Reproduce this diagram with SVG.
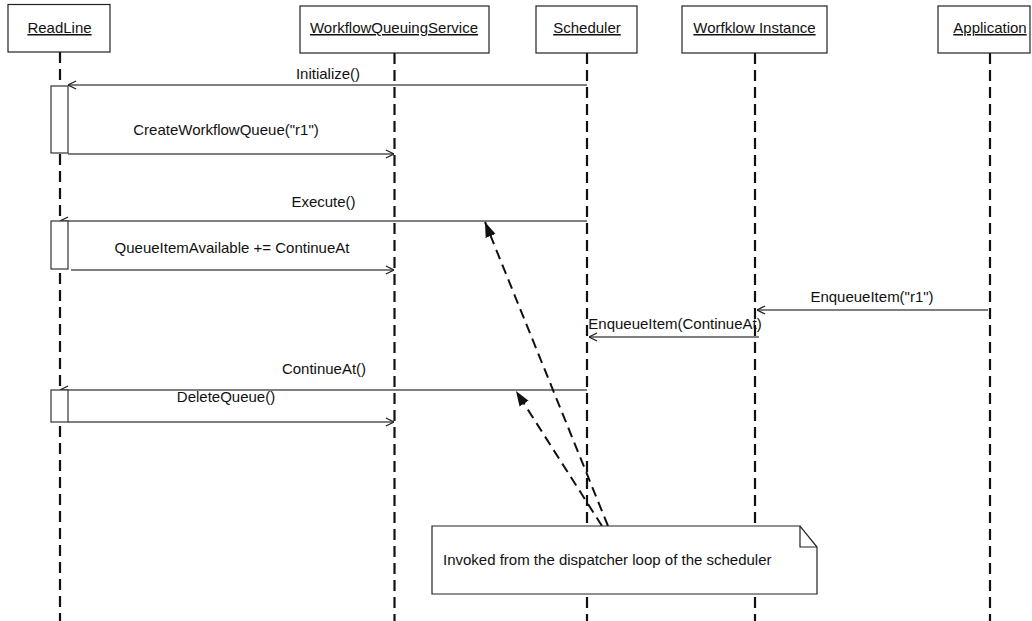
<svg xmlns="http://www.w3.org/2000/svg" width="1032" height="621" viewBox="0 0 1032 621">
<defs>
<style>
text{font-family:"Liberation Sans",Arial,sans-serif;font-size:15px;fill:#111}
.hdr{fill:#fff;stroke:#222;stroke-width:1.2}
.lbl{text-anchor:middle;text-decoration:underline}
.life{stroke:#111;stroke-width:2.2;stroke-dasharray:11 6;fill:none}
.msg{stroke:#555;stroke-width:1.4;fill:none;marker-end:url(#open)}
.act{fill:#fff;stroke:#333;stroke-width:1.2}
.dep{stroke:#111;stroke-width:2;stroke-dasharray:10 6;fill:none;marker-end:url(#filled)}
.mt{text-anchor:middle}
</style>
<marker id="open" viewBox="0 0 10 10" refX="10" refY="5" markerWidth="9" markerHeight="10" markerUnits="userSpaceOnUse" orient="auto">
<path d="M1,0.5 L10,5 L1,9.5" fill="none" stroke="#222" stroke-width="1.4"/>
</marker>
<marker id="filled" viewBox="0 0 14 10" refX="14" refY="5" markerWidth="15" markerHeight="11" markerUnits="userSpaceOnUse" orient="auto">
<path d="M0,0 L14,5 L0,10 Z" fill="#111"/>
</marker>
</defs>
<rect width="1032" height="621" fill="#fff"/>

<g id="lifelines">
<line class="life" x1="60" y1="52" x2="60" y2="621"/>
<line class="life" x1="394.5" y1="53" x2="394.5" y2="621"/>
<line class="life" x1="587" y1="53" x2="587" y2="621"/>
<line class="life" x1="755" y1="53" x2="755" y2="621"/>
<line class="life" x1="990" y1="53" x2="990" y2="621"/>
</g>

<g id="node-readline">
<rect class="hdr" x="8" y="4.5" width="102" height="47.5"/>
<text class="lbl" x="59.5" y="33">ReadLine</text>
</g>
<g id="node-wqs">
<rect class="hdr" x="300" y="6" width="189" height="47"/>
<text class="lbl" x="394" y="33">WorkflowQueuingService</text>
</g>
<g id="node-scheduler">
<rect class="hdr" x="536" y="6" width="101" height="47"/>
<text class="lbl" x="587" y="33">Scheduler</text>
</g>
<g id="node-instance">
<rect class="hdr" x="682" y="6" width="145" height="47"/>
<text class="lbl" x="754.5" y="33">Worfklow Instance</text>
</g>
<g id="node-application">
<rect class="hdr" x="938" y="6" width="92" height="47"/>
<text class="lbl" x="990" y="33">Application</text>
</g>

<g id="connectors">
<line class="msg" x1="587" y1="85" x2="68" y2="85"/>
<text class="mt" x="328" y="79">Initialize()</text>
<line class="msg" x1="68" y1="154" x2="394" y2="154"/>
<text class="mt" x="226" y="135">CreateWorkflowQueue("r1")</text>
<line class="msg" x1="587" y1="221" x2="60" y2="221"/>
<text class="mt" x="323.5" y="207">Execute()</text>
<line class="msg" x1="71" y1="270" x2="394" y2="270"/>
<text class="mt" x="232" y="253">QueueItemAvailable += ContinueAt</text>
<line class="msg" x1="988" y1="310" x2="757" y2="310"/>
<text class="mt" x="872" y="302">EnqueueItem("r1")</text>
<line class="msg" x1="759" y1="337" x2="589" y2="337"/>
<text class="mt" x="675" y="329">EnqueueItem(ContinueAt)</text>
<line class="msg" x1="587" y1="390" x2="60" y2="390"/>
<text class="mt" x="324" y="374">ContinueAt()</text>
<line class="msg" x1="68" y1="422" x2="394" y2="422"/>
<text class="mt" x="226" y="402">DeleteQueue()</text>
<line class="dep" x1="608" y1="526" x2="485" y2="222"/>
<line class="dep" x1="602" y1="526" x2="516" y2="391"/>
</g>

<g id="activations">
<rect class="act" x="51" y="86" width="17" height="67"/>
<rect class="act" x="51" y="221" width="17" height="48"/>
<rect class="act" x="51" y="390" width="17" height="32"/>
</g>

<g id="node-note">
<path d="M432,526 L800,526 L817,547 L817,594 L432,594 Z" fill="#fff" stroke="#222" stroke-width="1.2"/>
<path d="M800,526 L800,547 L817,547" fill="none" stroke="#222" stroke-width="1.2"/>
<text x="443" y="565">Invoked from the dispatcher loop of the scheduler</text>
</g>
</svg>
